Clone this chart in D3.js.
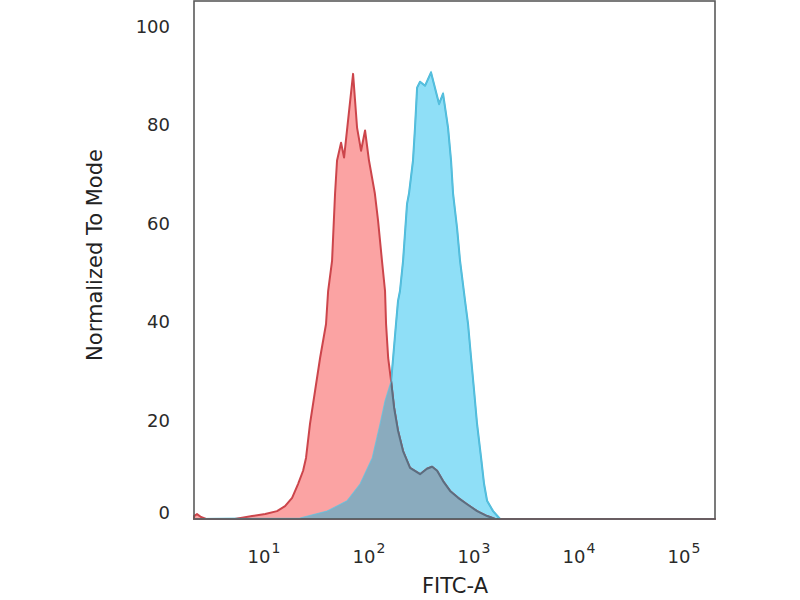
<!DOCTYPE html>
<html>
<head>
<meta charset="utf-8">
<script src="https://cdn.jsdelivr.net/npm/d3@7"></script>
<style>
  body { margin: 0; background: #fff; }
  text { font-family: "DejaVu Sans", sans-serif; }
</style>
</head>
<body>
<div id="viz1"></div>
<script>
// FITC-A intensity (x) and normalized-to-mode (y)
var redX = [2.35, 2.51, 2.74, 3.06, 5.78, 8.4, 11.2, 14.5, 17.3, 20.2, 23.0, 25.7, 27.4, 29.9, 33.4, 37.3,
            42.5, 44.5, 48.5, 51.8, 54.1, 59.1, 63.1, 76.9, 83.9, 91.6, 100, 109, 124, 133, 145, 155,
            158.5, 166, 177, 189, 206, 230, 268, 334, 389, 435, 485, 553, 645, 769, 936, 1166, 1452, 1730, 215000];
var redY = [0.6, 1.0, 0.4, 0, 0, 0.6, 1.0, 1.6, 2.6, 4.3, 7.1, 9.8, 12.4, 19.3, 26.0, 32.7,
            39.6, 46.3, 52.4, 66.1, 72.8, 76.4, 73.4, 90.4, 79.5, 74.8, 78.9, 72.8, 66.1, 60.6, 52.4, 46.3,
            39.6, 32.7, 28.0, 22.6, 17.9, 13.8, 10.4, 9.1, 10.2, 10.6, 9.8, 7.7, 5.7, 4.3, 3.0, 1.6, 0.6, 0, 0];

var blueX = [2.35, 24.0, 43.5, 67.4, 89.6, 117, 139, 155, 177, 185, 197, 206, 215, 230, 251, 262, 286, 299,
             313, 334, 373, 425, 507, 553, 617, 659, 689, 752, 803, 896, 957, 1023, 1093, 1166, 1274,
             1360, 1452, 1657, 1930, 215000];
var blueY = [0, 0.2, 1.6, 3.7, 7.1, 12.4, 19.3, 24.0, 28.0, 32.7, 39.6, 44.3, 46.3, 52.4, 64.0, 66.1, 72.8, 79.5,
             87.6, 88.8, 88.0, 90.7, 84.3, 86.4, 79.5, 72.8, 66.1, 59.1, 52.4, 44.3, 39.6, 32.7, 26.0, 19.3, 12.4,
             7.1, 3.7, 1.6, 0, 0];

var yTicks = [0, 20, 40, 60, 80, 100];
var xTickExponents = [1, 2, 3, 4, 5];
var xDomain = [2.35, 215000];
var yDomain = [0, 105.2];

var margin = {top: 1, right: 85, bottom: 81, left: 194};
var width = 800, height = 600;

const svg = d3.select("#viz1")
  .append("svg")
  .attr("width", width)
  .attr("height", height);

var x = d3.scaleLog().domain(xDomain).range([margin.left, width - margin.right]);
var y = d3.scaleLinear().domain(yDomain).range([height - margin.bottom, margin.top]);

var red = redX.map((d, i) => ({x: d, y: redY[i]}));
var blue = blueX.map((d, i) => ({x: d, y: blueY[i]}));

var area = d3.area()
  .x(d => x(d.x))
  .y0(y(0))
  .y1(d => y(d.y));

// clip for the overlap of the two histograms
svg.append("clipPath")
  .attr("id", "clipBlue")
  .append("path")
  .attr("d", area(blue));

svg.append("path")
  .attr("d", area(blue))
  .attr("fill", "#8fdff7")
  .attr("stroke", "#48b6d6")
  .attr("stroke-width", 2)
  .attr("stroke-linejoin", "round");

svg.append("path")
  .attr("d", area(red))
  .attr("fill", "#fba3a3")
  .attr("stroke", "#cc454b")
  .attr("stroke-width", 2)
  .attr("stroke-linejoin", "round");

svg.append("path")
  .attr("d", area(red))
  .attr("clip-path", "url(#clipBlue)")
  .attr("fill", "#8aabbe")
  .attr("stroke", "#5b6e80")
  .attr("stroke-width", 2)
  .attr("stroke-linejoin", "round");

svg.append("path")
  .attr("d", area(blue))
  .attr("fill", "none")
  .attr("stroke", "#5cc4e2")
  .attr("stroke-opacity", 0.7)
  .attr("stroke-width", 1.2);

// frame
svg.append("rect")
  .attr("x", margin.left)
  .attr("y", margin.top)
  .attr("width", width - margin.left - margin.right)
  .attr("height", height - margin.bottom - margin.top)
  .attr("fill", "none")
  .attr("stroke", "#5a5a5a")
  .attr("stroke-width", 1.6);

// y axis
var yAxis = svg.append("g")
  .attr("transform", "translate(" + margin.left + ",0)")
  .call(d3.axisLeft(y).tickValues(yTicks).tickSize(0).tickPadding(24));
yAxis.select(".domain").remove();
yAxis.selectAll("text")
  .attr("font-size", 18)
  .attr("font-family", "DejaVu Sans")
  .attr("fill", "#2a2a2a")
  .attr("dy", d => d === 0 ? "-0.05em" : "0.32em");

// x axis, log decades
var xAxis = svg.append("g")
  .attr("transform", "translate(0," + (height - margin.bottom) + ")")
  .call(d3.axisBottom(x).tickValues(xTickExponents.map(e => Math.pow(10, e))).tickSize(0).tickFormat(""));
xAxis.select(".domain").remove();
xAxis.selectAll(".tick").each(function(d, i) {
  var t = d3.select(this).append("text")
    .attr("x", -13)
    .attr("y", 44)
    .attr("fill", "#2a2a2a")
    .attr("text-anchor", "start")
    .attr("font-size", 18);
  t.append("tspan").text("10");
  t.append("tspan").attr("dx", 1).attr("dy", -10).attr("font-size", 14).text(xTickExponents[i]);
});

// axis titles
svg.append("text")
  .attr("x", 455)
  .attr("y", 593)
  .attr("text-anchor", "middle")
  .attr("font-size", 21)
  .attr("fill", "#222")
  .text("FITC-A");

svg.append("text")
  .attr("transform", "translate(102,255) rotate(-90)")
  .attr("text-anchor", "middle")
  .attr("font-size", 21)
  .attr("fill", "#222")
  .text("Normalized To Mode");
</script>
</body>
</html>
